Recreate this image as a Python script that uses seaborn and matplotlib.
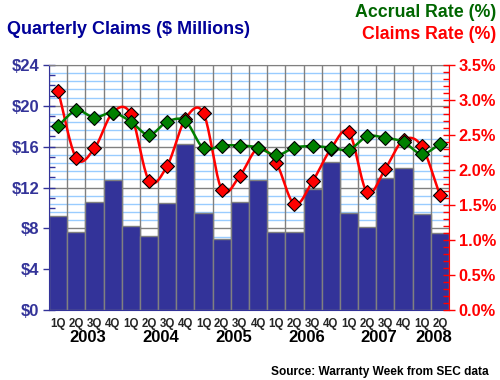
import numpy as np
import pandas as pd
import matplotlib
matplotlib.use('Agg')
import matplotlib.pyplot as plt
import matplotlib.ticker as mticker
import matplotlib.transforms as mtrans
import seaborn as sns

# data
quarters = ['1Q', '2Q', '3Q', '4Q'] * 5 + ['1Q', '2Q']
years = ['2003', '2004', '2005', '2006', '2007', '2008']
claims = [9.2, 7.6, 10.6, 12.7, 8.2, 7.3, 10.5, 16.3, 9.5, 7.0, 10.6,
          12.7, 7.6, 7.6, 11.9, 14.5, 9.5, 8.1, 12.9, 13.9, 9.4, 7.5]
accrual_rate = [2.63, 2.85, 2.75, 2.82, 2.69, 2.50, 2.69, 2.70, 2.31, 2.35, 2.35,
                2.32, 2.21, 2.32, 2.34, 2.32, 2.29, 2.48, 2.46, 2.40, 2.23, 2.37]
claims_rate = [3.13, 2.17, 2.31, 2.82, 2.80, 1.85, 2.06, 2.73, 2.81, 1.72, 1.92,
               2.31, 2.10, 1.51, 1.84, 2.30, 2.54, 1.68, 2.02, 2.43, 2.34, 1.64]

NAVY = '#333399'
RED = '#ff0000'
GREEN = '#008000'
FONT = 'Liberation Sans'

sns.set_style('white')
plt.rcParams['font.family'] = [FONT, 'DejaVu Sans']
plt.rcParams['font.weight'] = 'bold'


def smooth(y, n=20):
    # Catmull-Rom curve through the points, like a "smoothed line" chart
    y = np.asarray(y, dtype=float)
    m = np.empty_like(y)
    m[1:-1] = (y[2:] - y[:-2]) / 2
    m[0] = y[1] - y[0]
    m[-1] = y[-1] - y[-2]
    xs, ys = [], []
    t = np.linspace(0, 1, n, endpoint=False)
    h00 = 2 * t**3 - 3 * t**2 + 1
    h10 = t**3 - 2 * t**2 + t
    h01 = -2 * t**3 + 3 * t**2
    h11 = t**3 - t**2
    for i in range(len(y) - 1):
        xs.append(i + t)
        ys.append(h00 * y[i] + h10 * m[i] + h01 * y[i + 1] + h11 * m[i + 1])
    xs.append([len(y) - 1])
    ys.append([y[-1]])
    return np.concatenate(xs), np.concatenate(ys)


df = pd.DataFrame({'pos': range(len(claims)), 'claims': claims})

fig = plt.figure(figsize=(5, 3.8), dpi=100)
ax = fig.add_axes([0.098, 0.184, 0.8, 0.645])

# light blue minor lines and gray major lines behind the bars
for v in np.arange(0, 24.01, 0.8):
    if abs(v / 4 - round(v / 4)) > 0.01:
        ax.axhline(v, color='#99ccff', lw=1, zorder=0)

sns.barplot(data=df, x='pos', y='claims', color=NAVY, saturation=1, width=1,
            edgecolor='#808080', linewidth=1, ax=ax, zorder=2)
ax.set_xlim(-0.5, len(claims) - 0.5)
ax.set_ylim(0, 24)
ax.set_xlabel('')
ax.set_ylabel('')

ax.yaxis.set_major_locator(mticker.MultipleLocator(4))
ax.yaxis.set_minor_locator(mticker.MultipleLocator(1))
ax.yaxis.set_major_formatter(mticker.FuncFormatter(lambda v, p: f'${v:.0f}'))
ax.tick_params(axis='y', which='major', direction='inout', length=8, width=1,
               color=NAVY, labelcolor=NAVY, labelsize=12, pad=3)
ax.tick_params(axis='y', which='minor', direction='in', length=4, width=1, color=NAVY)

ax.set_xticks(range(len(claims)))
ax.set_xticklabels(quarters, fontsize=8.3, fontweight='bold')
ax.set_xticks(np.arange(-0.5, len(claims), 1), minor=True)
ax.tick_params(axis='x', which='major', length=0, pad=6)
ax.tick_params(axis='x', which='minor', direction='out', length=4, width=1, color='black')

ax.grid(axis='y', which='major', color='#808080', lw=1, zorder=1)
ax.grid(axis='x', which='minor', color='#808080', lw=1, zorder=1)
ax.set_axisbelow(True)

for side in ['left', 'bottom']:
    ax.spines[side].set_color(NAVY)
ax.spines['top'].set_color('#808080')
ax.spines['right'].set_visible(False)

trans = mtrans.blended_transform_factory(ax.transData, ax.transAxes)
for k, yr in enumerate(years):
    first = 4 * k
    last = min(first + 3, len(claims) - 1)
    ax.text((first + last) / 2 + 0.15, -0.08, yr, transform=trans, ha='center',
            va='top', fontsize=12, fontweight='bold', color='black')

# rates on the right axis
ax2 = ax.twinx()
ax2.set_xlim(ax.get_xlim())
ax2.set_ylim(0, 3.5)
xr, yr_ = smooth(claims_rate)
sns.lineplot(x=xr, y=yr_, color=RED, lw=1.8, ax=ax2, sort=False, zorder=3)
ax2.plot(range(len(claims_rate)), claims_rate, ls='none', marker='D', ms=7,
         mfc=RED, mec='black', mew=0.8, zorder=4)
xa, ya = smooth(accrual_rate)
sns.lineplot(x=xa, y=ya, color=GREEN, lw=1.8, ax=ax2, sort=False, zorder=5)
ax2.plot(range(len(accrual_rate)), accrual_rate, ls='none', marker='D', ms=7,
         mfc=GREEN, mec='black', mew=0.8, zorder=6)

ax2.yaxis.set_major_locator(mticker.MultipleLocator(0.5))
ax2.yaxis.set_minor_locator(mticker.MultipleLocator(0.1))
ax2.yaxis.set_major_formatter(mticker.FuncFormatter(lambda v, p: f'{v:.1f}%'))
ax2.tick_params(axis='y', which='major', direction='inout', length=8, width=1,
                color=RED, labelcolor=RED, labelsize=11.8, pad=3)
ax2.tick_params(axis='y', which='minor', direction='in', length=4, width=1, color=RED)
ax2.set_ylabel('')
for side in ['left', 'top', 'bottom']:
    ax2.spines[side].set_visible(False)
ax2.spines['right'].set_color(RED)

fig.text(0.014, 0.922, 'Quarterly Claims ($ Millions)', color='#000099',
         fontsize=13, fontweight='bold', ha='left', va='center')
fig.text(0.992, 0.967, 'Accrual Rate (%)', color='#006600',
         fontsize=12.8, fontweight='bold', ha='right', va='center')
fig.text(0.992, 0.91, 'Claims Rate (%)', color=RED,
         fontsize=12.8, fontweight='bold', ha='right', va='center')
fig.text(0.978, 0.022, 'Source: Warranty Week from SEC data', color='black',
         fontsize=8.6, fontweight='bold', ha='right', va='center')

fig.savefig('out.png', dpi=100)
